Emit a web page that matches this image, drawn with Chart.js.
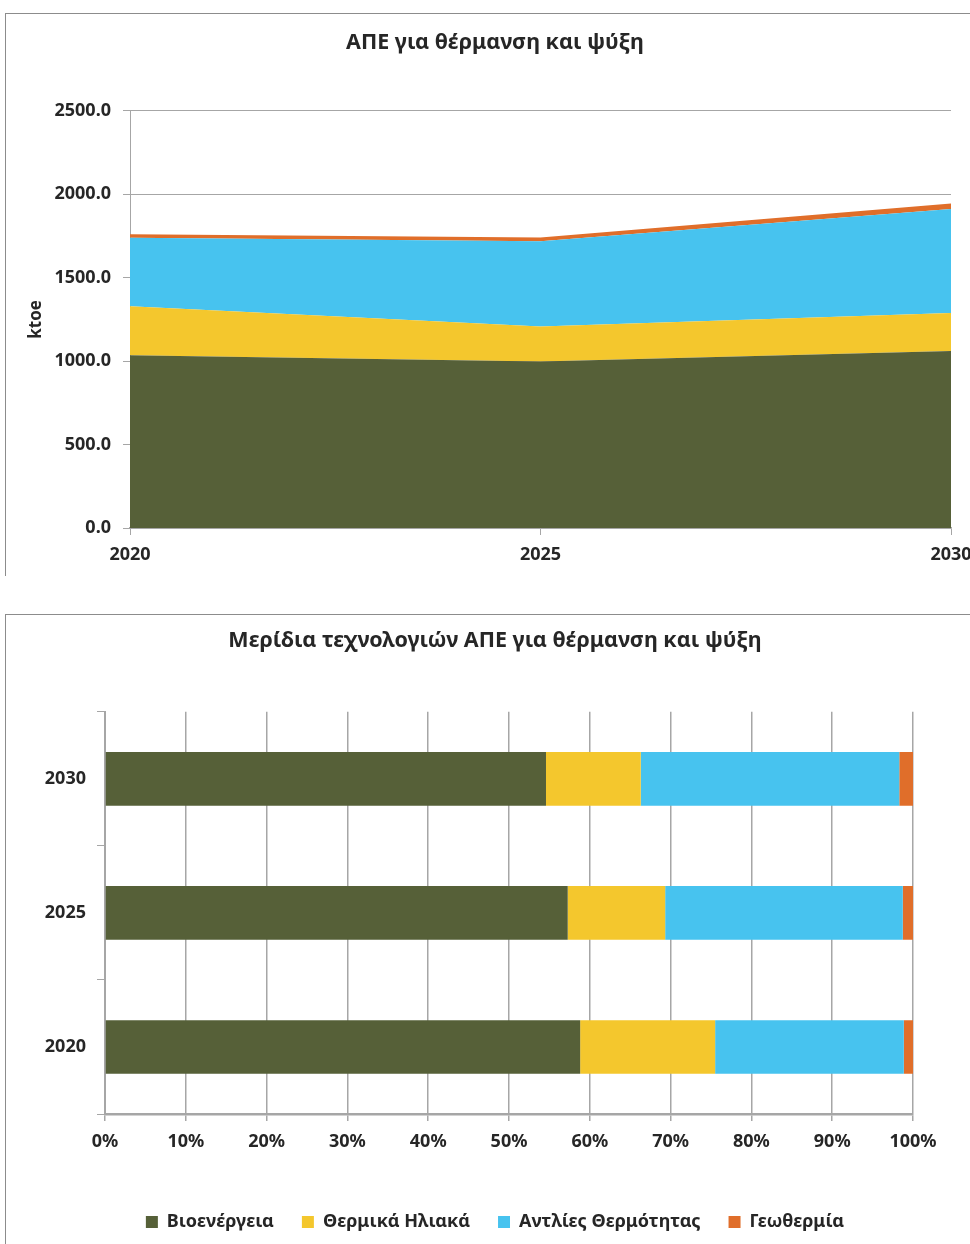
<!DOCTYPE html>
<html>
<head>
<meta charset="utf-8">
<script src="https://cdn.jsdelivr.net/npm/chart.js@4.4.0/dist/chart.umd.min.js"></script>
<style>
  html, body { margin: 0; padding: 0; background: #fff; overflow: hidden; width: 970px; height: 1244px; }
  .frame { position: absolute; left: 5px; width: 978px; border-top: 1px solid #8c8c8c; border-left: 1px solid #8c8c8c; }
  #top { top: 13px; height: 562px; }
  #bottom { top: 614px; height: 630px; }
  canvas { position: absolute; left: 0; top: 0; }
</style>
</head>
<body>
<div class="frame" id="top"><canvas id="area" width="978" height="562"></canvas></div>
<div class="frame" id="bottom"><canvas id="share" width="978" height="630"></canvas></div>
<script>
var years = ['2020', '2025', '2030']
var names = ['Βιοενέργεια', 'Θερμικά Ηλιακά', 'Αντλίες Θερμότητας', 'Γεωθερμία']
var colors = ['#566038', '#F4C72D', '#47C3EF', '#E06E2A']
// ktoe
var bio = [1035, 997, 1061]
var solar = [294, 210, 228]
var heatPumps = [411, 512, 622]
var geo = [20, 22, 33]
var yTicks = [0, 500, 1000, 1500, 2000, 2500]

var series = [bio, solar, heatPumps, geo]
var font = 'Noto Sans'
var dark = '#262626'
var grey = '#A6A6A6'

Chart.defaults.font.family = font
Chart.defaults.font.weight = 'bold'
Chart.defaults.color = dark
Chart.defaults.animation = false

new Chart(document.getElementById('area').getContext('2d'), {
    type: 'line',
    data: {
        labels: years,
        datasets: series.map(function(s, i){
            return {
                label: names[i],
                data: s,
                backgroundColor: colors[i],
                borderWidth: 0,
                pointRadius: 0,
                fill: i == 0 ? 'origin' : '-1'
            }
        })
    },
    options: {
        responsive: false,
        // equal side padding keeps the title centred on the frame
        layout: { padding: { left: 33, right: 33, top: 0, bottom: 0 } },
        plugins: {
            legend: { display: false },
            tooltip: { enabled: false },
            title: {
                display: true,
                text: 'ΑΠΕ για θέρμανση και ψύξη',
                font: { size: 21.5, weight: 'bold' },
                color: dark,
                padding: { top: 16, bottom: 55 }
            }
        },
        scales: {
            x: {
                type: 'category',
                offset: false,
                grid: { drawOnChartArea: false, color: grey, tickLength: 7 },
                border: { color: grey, width: 1.5 },
                ticks: { font: { size: 18, weight: 'bold' }, padding: 9, maxRotation: 0, autoSkip: false },
                afterFit: function(s){ s.height = 48 }
            },
            y: {
                stacked: true,
                min: 0,
                max: 2500,
                afterBuildTicks: function(s){ s.ticks = yTicks.map(function(v){ return {value: v} }) },
                grid: { color: grey, tickLength: 7 },
                border: { color: grey },
                ticks: {
                    font: { size: 18, weight: 'bold' },
                    padding: 12,
                    callback: function(v){ return v.toFixed(1) }
                },
                title: {
                    display: true,
                    text: 'ktoe',
                    font: { size: 17, weight: 'bold' },
                    color: dark,
                    padding: { top: -13, bottom: 0 }
                },
                afterFit: function(s){ s.width = 91 }
            }
        }
    }
});

// shares for the 100% bar chart, built from the ktoe arrays
var totals = years.map(function(y, j){
    return series.reduce(function(a, s){ return a + s[j] }, 0)
})
var shares = series.map(function(s){
    return s.map(function(v, j){ return v / totals[j] * 100 })
})

new Chart(document.getElementById('share').getContext('2d'), {
    type: 'bar',
    data: {
        labels: years,
        datasets: shares.map(function(s, i){
            return {
                label: names[i],
                data: s,
                backgroundColor: colors[i],
                borderWidth: 0,
                barPercentage: 0.4,
                categoryPercentage: 1
            }
        })
    },
    options: {
        responsive: false,
        indexAxis: 'y',
        layout: { padding: { left: 71, right: 71, top: 0, bottom: 4 } },
        plugins: {
            tooltip: { enabled: false },
            title: {
                display: true,
                text: 'Μερίδια τεχνολογιών ΑΠΕ για θέρμανση και ψύξη',
                font: { size: 21.5, weight: 'bold' },
                color: dark,
                padding: { top: 13, bottom: 58 }
            },
            legend: {
                position: 'bottom',
                labels: {
                    boxWidth: 12,
                    boxHeight: 12,
                    padding: 28,
                    color: dark,
                    font: { size: 18, weight: 'bold' }
                }
            }
        },
        scales: {
            x: {
                stacked: true,
                min: 0,
                max: 100,
                ticks: {
                    stepSize: 10,
                    padding: 10,
                    font: { size: 18, weight: 'bold' },
                    callback: function(v){ return v + '%' }
                },
                grid: { color: grey, lineWidth: 1.5, tickLength: 7 },
                border: { color: grey, width: 2.5 },
                afterFit: function(s){ s.height = 71 }
            },
            y: {
                stacked: true,
                reverse: true,
                grid: { drawOnChartArea: false, color: grey, tickLength: 8 },
                border: { color: grey },
                ticks: { padding: 11, font: { size: 18, weight: 'bold' } },
                afterFit: function(s){ s.width = 28 }
            }
        }
    },
    plugins: [{
        // the narrow y box would clip the year labels, so widen it after layout
        id: 'unclip',
        afterLayout: function(chart){ chart.scales.y.left = 0 }
    }]
});
</script>
</body>
</html>
